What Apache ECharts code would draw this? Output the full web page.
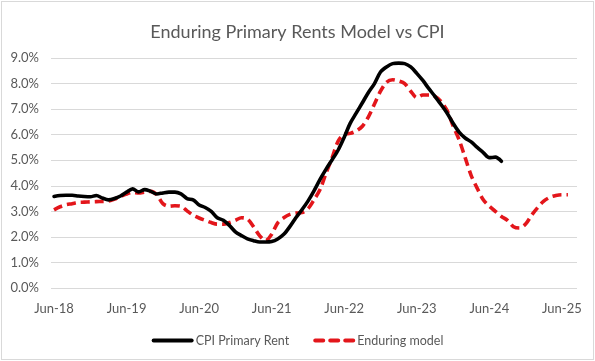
<!DOCTYPE html>
<html>
<head>
<meta charset="utf-8">
<script src="https://cdn.jsdelivr.net/npm/echarts@6/dist/echarts.min.js"></script>
<style>
html,body{margin:0;padding:0;background:#fff;}
#wrap{position:absolute;left:1px;top:1px;width:591px;height:357px;border:1px solid #d9d9d9;}
#chart{position:absolute;left:-2px;top:-2px;width:595px;height:361px;}
</style>
</head>
<body>
<div id="wrap"><div id="chart"></div></div>
<script>
const months = [
 'Jun-18','Jul-18','Aug-18','Sep-18','Oct-18','Nov-18','Dec-18',
 'Jan-19','Feb-19','Mar-19','Apr-19','May-19','Jun-19','Jul-19','Aug-19','Sep-19','Oct-19','Nov-19','Dec-19',
 'Jan-20','Feb-20','Mar-20','Apr-20','May-20','Jun-20','Jul-20','Aug-20','Sep-20','Oct-20','Nov-20','Dec-20',
 'Jan-21','Feb-21','Mar-21','Apr-21','May-21','Jun-21','Jul-21','Aug-21','Sep-21','Oct-21','Nov-21','Dec-21',
 'Jan-22','Feb-22','Mar-22','Apr-22','May-22','Jun-22','Jul-22','Aug-22','Sep-22','Oct-22','Nov-22','Dec-22',
 'Jan-23','Feb-23','Mar-23','Apr-23','May-23','Jun-23','Jul-23','Aug-23','Sep-23','Oct-23','Nov-23','Dec-23',
 'Jan-24','Feb-24','Mar-24','Apr-24','May-24','Jun-24','Jul-24','Aug-24','Sep-24','Oct-24','Nov-24','Dec-24',
 'Jan-25','Feb-25','Mar-25','Apr-25','May-25','Jun-25','Jul-25','Aug-25'
];

// CPI Primary Rent (% y/y), Jun-18 .. Aug-24
const cpiPrimaryRent = [
 3.58,3.62,3.63,3.63,3.60,3.58,3.57,3.62,3.52,3.45,3.50,3.60,
 3.75,3.88,3.76,3.85,3.78,3.68,3.72,3.75,3.75,3.68,3.50,3.45,
 3.25,3.15,3.00,2.75,2.65,2.45,2.20,2.05,1.92,1.85,1.80,1.80,
 1.82,1.92,2.10,2.40,2.75,3.06,3.40,3.80,4.25,4.65,5.02,5.40,
 5.90,6.45,6.85,7.25,7.65,8.00,8.45,8.65,8.78,8.80,8.78,8.65,
 8.40,8.12,7.80,7.50,7.18,6.85,6.45,6.10,5.87,5.72,5.50,5.30,
 5.10,5.12,4.96
];

// Enduring model (% y/y), Jun-18 .. Jul-25
const enduringModel = [
 3.06,3.18,3.26,3.30,3.35,3.36,3.37,3.38,3.39,3.40,3.48,3.58,
 3.68,3.74,3.72,3.75,3.78,3.65,3.30,3.20,3.22,3.20,3.02,2.85,
 2.74,2.65,2.56,2.50,2.50,2.56,2.65,2.75,2.70,2.40,2.05,1.85,
 2.10,2.55,2.75,2.88,2.93,2.95,3.10,3.45,3.85,4.50,5.10,5.75,
 6.02,6.05,6.15,6.33,6.70,7.20,7.70,8.05,8.15,8.10,8.00,7.70,
 7.45,7.55,7.55,7.50,7.30,6.95,6.35,5.80,5.10,4.40,3.90,3.45,
 3.20,3.00,2.80,2.65,2.40,2.35,2.50,2.85,3.15,3.40,3.55,3.62,
 3.65,3.65
];

const yTicks = [0,1,2,3,4,5,6,7,8,9];

const font = 'Lato, "Open Sans", sans-serif';
const solidIcon = 'path://M2,0H40A2,2 0 0 1 40,4H2A2,2 0 0 1 2,0Z';
const dashIcon = 'path://M2,0H10A2,2 0 0 1 10,4H2A2,2 0 0 1 2,0Z M17,0H25A2,2 0 0 1 25,4H17A2,2 0 0 1 17,0Z M32,0H40A2,2 0 0 1 40,4H32A2,2 0 0 1 32,0Z';
const chart = echarts.init(document.getElementById('chart'), null, {renderer:'canvas'});
chart.setOption({
  animation:false,
  backgroundColor:'transparent',
  title:{
    text:'Enduring Primary Rents Model vs CPI',
    left:'center', top:18,
    textStyle:{fontFamily:font, fontSize:18, fontWeight:'normal', color:'#595959'}
  },
  legend:{
    bottom:9, left:'center',
    itemWidth:42, itemHeight:4, itemGap:24,
    textStyle:{fontFamily:font, fontSize:12.5, color:'#595959', padding:[0,0,0,-3]},
    data:[
      {name:'CPI Primary Rent', icon:solidIcon, itemStyle:{color:'#000000'}},
      {name:'Enduring model', icon:dashIcon, itemStyle:{color:'#e3161b'}}
    ]
  },
  grid:{left:51, right:18, top:58, bottom:73, containLabel:false},
  xAxis:{
    type:'category',
    data:months,
    boundaryGap:true,
    axisLine:{show:false},
    axisTick:{show:false},
    axisLabel:{
      interval:function(idx){return idx % 12 === 0;},
      margin:14,
      fontFamily:font, fontSize:13, color:'#595959'
    },
    splitLine:{show:false}
  },
  yAxis:{
    type:'value',
    min:yTicks[0], max:yTicks[yTicks.length-1], interval:1,
    axisLine:{show:false},
    axisTick:{show:false},
    axisLabel:{
      formatter:function(v){return v.toFixed(1)+'%';},
      margin:12,
      fontFamily:font, fontSize:13, color:'#595959'
    },
    splitLine:{lineStyle:{color:'#d9d9d9', width:1}}
  },
  series:[
    {
      name:'CPI Primary Rent', type:'line', data:cpiPrimaryRent,
      smooth:0.3, showSymbol:false, symbol:'none',
      lineStyle:{color:'#000000', width:3.6, cap:'round', join:'round'},
      itemStyle:{color:'#000000'}, z:3
    },
    {
      name:'Enduring model', type:'line', data:enduringModel,
      smooth:0.3, showSymbol:false, symbol:'none',
      lineStyle:{color:'#e3161b', width:3.6, type:[9,5], cap:'butt'},
      itemStyle:{color:'#e3161b'}, z:2
    }
  ]
});
</script>
</body>
</html>
